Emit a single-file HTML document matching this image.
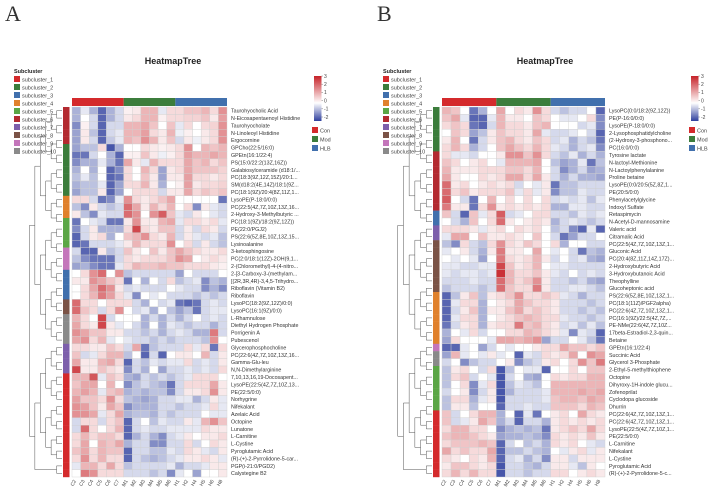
<!DOCTYPE html>
<html><head><meta charset="utf-8"><style>
body{margin:0;background:#fff;}
svg{display:block;font-family:"Liberation Sans",sans-serif;}
</style></head><body>
<svg id="fig" width="708" height="489" viewBox="0 0 708 489">
<text x="5" y="21" font-family="Liberation Serif" font-size="22" fill="#333">A</text>
<text x="377" y="21" font-family="Liberation Serif" font-size="22" fill="#333">B</text>
</svg>
<script>
const colLabels=["C2","C3","C4","C5","C6","C7","M1","M2","M3","M4","M5","M6","H1","H2","H4","H5","H6","H8"];
const groupNames=["Con","Mod","HLB"];
const subNames=["subcluster_1","subcluster_2","subcluster_3","subcluster_4","subcluster_5","subcluster_6","subcluster_7","subcluster_8","subcluster_9","subcluster_10"];
const barTicks=[3,2,1,0,-1,-2];
const rowsA=["Taurohyocholic Acid","N-Eicosapentaenoyl Histidine","Taurohyocholate","N-Linoleoyl Histidine","Ergocornine","GPCho(22:5/16:0)","GPEtn(16:1/22:4)","PS(15:0/22:2(13Z,16Z))","Galabiosylceramide (d18:1/...","PC(18:3(9Z,12Z,15Z)/20:1...","SM(d18:2(4E,14Z)/18:1(9Z...","PC(18:1(9Z)/20:4(8Z,11Z,1...","LysoPE(P-18:0/0:0)","PC(22:5(4Z,7Z,10Z,13Z,16...","2-Hydroxy-3-Methylbutyric ...","PC(18:1(9Z)/18:2(9Z,12Z))","PE(22:0/PGJ2)","PS(22:6(5Z,8E,10Z,13Z,15...","Lysinoalanine","3-ketosphingosine","PC(2:0/18:1(12Z)-2OH(9,1...","2-(Chloromethyl)-4-(4-nitro...","2-[3-Carboxy-3-(methylam...","[(2R,3R,4R)-3,4,5-Trihydro...","Riboflavin (Vitamin B2)","Riboflavin","LysoPC(18:2(9Z,12Z)/0:0)","LysoPC(16:1(9Z)/0:0)","L-Rhamnulose","Diethyl Hydrogen Phosphate","Porrigenin A","Pubescenol","Glycerophosphocholine","PC(22:6(4Z,7Z,10Z,13Z,16...","Gamma-Glu-leu","N,N-Dimethylarginine","7,10,13,16,19-Docosapent...","LysoPE(22:5(4Z,7Z,10Z,13...","PE(22:5/0:0)","Norhygrine","Nifekalant","Azelaic Acid","Octopine","Lunatone","L-Carnitine","L-Cystine","Pyroglutamic Acid","(R)-(+)-2-Pyrrolidone-5-car...","PGP(i-21:0/PGD2)","Calystegine B2"];
const rowsB=["LysoPC(0:0/18:2(9Z,12Z))","PE(P-16:0/0:0)","LysoPE(P-18:0/0:0)","2-Lysophosphatidylcholine","(2-Hydroxy-3-phosphono...","PC(16:0/0:0)","Tyrosine lactate","N-lactoyl-Methionine","N-Lactoylphenylalanine","Proline betaine","LysoPE(0:0/20:5(5Z,8Z,1...","PE(20:5/0:0)","Phenylacetylglycine","Indoxyl Sulfate","Retaspimycin","N-Acetyl-D-mannosamine","Valeric acid","Citramalic Acid","PC(22:5(4Z,7Z,10Z,13Z,1...","Gluconic Acid","PC(20:4(8Z,11Z,14Z,17Z)...","2-Hydroxybutyric Acid","3-Hydroxybutanoic Acid","Theophylline","Glucoheptonic acid","PS(22:6(5Z,8E,10Z,13Z,1...","PC(18:1(11Z)/PGF2alpha)","PC(22:6(4Z,7Z,10Z,13Z,1...","PC(16:1(9Z)/22:5(4Z,7Z,...","PE-NMe(22:6(4Z,7Z,10Z...","17beta-Estradiol-2,3-quin...","Betaine","GPEtn(16:1/22:4)","Succinic Acid","Glycerol 3-Phosphate","2-Ethyl-5-methylthiophene","Octopine","Dihyroxy-1H-indole glucu...","Zofenoprilat","Cyclodopa glucoside","Dhurrin","PC(22:6(4Z,7Z,10Z,13Z,1...","PC(22:6(4Z,7Z,10Z,13Z,1...","LysoPE(22:5(4Z,7Z,10Z,1...","PE(22:5/0:0)","L-Carnitine","Nifekalant","L-Cystine","Pyroglutamic Acid","(R)-(+)-2-Pyrrolidone-5-c..."];
const subA=[6,6,6,6,6,2,2,2,2,2,2,2,4,4,4,5,5,5,5,9,9,9,3,3,3,3,8,8,10,10,10,10,7,7,7,7,1,1,1,1,1,1,1,1,1,1,1,1,1,1];
const subB=[2,2,2,2,2,2,6,6,6,6,6,6,6,6,3,3,7,7,8,8,8,8,8,8,8,4,4,4,4,4,4,4,9,10,10,5,5,5,5,5,5,1,1,1,1,1,1,1,1,1];
const valsA=[
[-1,-0.3,-1,-2,-1,-0.5,0.2,0.3,1,1,-0.3,0.5,0.5,0.8,0.8,1,0.5,1.5],
[-1,0,-0.5,-2,-1,-0.5,0.3,0.5,1,1,0.2,0.5,0.5,0.6,0.6,0.8,0.3,1.3],
[-1.5,0.2,-0.5,-2,-0.5,-0.5,1,1,1.2,0.8,0,0.8,-0.3,0.5,0,0.5,0.6,1.5],
[-1.2,0.3,-0.8,-2,-0.5,-0.3,1,1,1.3,0.5,0.3,1,-0.2,0.2,0,0.3,0.5,1.5],
[-1.2,0.3,-0.5,-2,-0.7,-0.3,1,0.8,1.5,1,0.3,0.8,-0.5,0.3,-0.2,0.3,0.5,1.5],
[-1.2,-0.8,-0.8,0.5,-2.2,-1,0,0,0.5,0.3,0.2,0.3,0.5,1.5,0,1,0.8,1],
[-1.8,-1.8,-0.5,0,-1,-2,0.2,0.2,0.8,0.3,-0.2,0.2,0.5,1.3,1,1,1.2,1],
[-1.5,-1,-1,-0.3,-1,-1.8,1.2,0.3,-0.3,1,0.5,0.5,0.5,1.2,0.8,1,0.5,0.8],
[-1,0,-1,0,-2,-1.5,0.5,0,1,0.5,-1.2,0.3,0.5,1.2,0.8,0.8,0.8,0.6],
[-0.8,-0.3,-0.8,0,-2,-1.8,0.5,0,0.8,0.3,-1.2,0.3,0.3,1.3,0.5,0.5,0.3,0.5],
[-1,-0.8,-0.8,-0.3,-2,-1.2,0.5,0.5,1,0.3,-1,0,0.2,1.3,0.3,0.5,0.5,0.6],
[-1.2,-0.8,-0.8,0.3,-2,-1.2,0,0.5,0.5,0.5,-0.5,0.3,0.3,1.2,0.5,0.8,0.6,0.8],
[0.5,0.5,-0.5,-1.8,-1.5,-0.3,1.5,0.5,0.3,0.5,0.8,1.2,0,0,0,0,0,-1.8],
[-0.8,-1.5,0.3,-0.5,-0.8,-0.5,2,1.2,0.3,1,0.5,1,0,0.5,-1.5,0.3,-0.3,-0.5],
[0.3,-0.8,-1.5,-0.3,-0.5,-0.5,2,1.5,0,1.5,2.2,0.8,-0.3,-0.5,0.3,0,-0.3,-0.5],
[-1.8,0,-0.3,-0.5,-1.8,-1.8,0.3,1.5,0.3,0.3,1,1.2,-0.3,0.5,0.5,0.3,0.5,-0.3],
[-1.5,-0.5,0.3,-1,-1,-1,0.5,2.5,0.5,0.3,0.8,0.8,-0.5,0.3,-0.5,0.5,0.3,-0.5],
[-2,-0.5,0.3,0.5,-1,0,0.8,1,1.5,0.5,0.3,1,-0.5,0.3,-0.3,-0.5,-0.3,-0.8],
[-2,-1.8,-0.5,-0.5,-0.5,-0.3,0.3,1,0.5,0.5,0.5,1.5,0,0.5,-0.5,0.3,-0.5,-0.8],
[-0.5,-2,-2,0.3,-0.8,-0.5,0.8,0.3,0,0.8,0.3,0.8,1.2,0.8,0.5,0.3,0.3,0.5],
[-0.8,-1.5,-1.8,-1.8,-1.8,-0.5,0.5,0.3,0.5,0.5,0.5,0.8,1.5,1.2,0,0.3,0.5,0.3],
[-1.2,-1,-1.5,-1.8,-1.8,-0.3,0.5,1,0.8,0.8,1,0.8,0.8,0.5,0.5,0.5,0.3,0.2],
[0,0.5,1.5,2,0,1.5,-0.8,-0.5,-0.5,-0.5,-0.5,-0.5,-1.2,0,-0.5,-0.5,-0.5,0],
[0.3,0.3,1.5,1.2,0.8,0.5,-1.8,0,-1,0,-0.5,0.5,-0.8,-0.5,-0.3,-1.5,-0.8,-1],
[0,0.5,1.2,2,1.5,0.3,-0.5,-0.3,-0.5,-0.5,-0.5,0,-0.3,-0.5,-0.5,-1.5,-1,-1.5],
[0,0.5,1,1.8,1.3,0.5,-0.3,-1.5,0,-0.3,0,-0.5,-0.5,-0.5,-0.8,-0.5,-0.8,-0.5],
[2,0.5,0.5,0,0.5,0.5,0.5,-0.5,-1,0,-0.5,-0.3,-1.8,-2,-1.8,-0.5,-0.3,-0.5],
[2,0.8,0.5,-0.5,0.5,1.5,0,-0.5,-0.3,-1,0,-0.8,-1.2,-0.8,-1.8,-0.5,-0.3,-0.3],
[1,0.5,0,2.5,-0.5,0,0,0,-1,-0.5,-1,-0.5,-1,-0.5,0,-0.5,-0.3,-0.5],
[1.2,0.5,0.3,2.5,0.3,-0.3,0,-0.5,-1,0,-1,-0.3,-0.5,-0.8,-0.5,-0.5,-1,-0.5],
[1.5,1.2,0.8,0.8,0.3,0.3,-0.5,-0.5,-0.8,-0.5,-1,-0.5,-0.3,-0.5,-1,-1,1.8,-0.5],
[1.2,1.5,0.5,1,-0.3,0,-0.3,-0.5,-0.5,-0.8,-0.5,-0.8,-0.5,-0.5,-0.5,-0.8,1.5,0],
[0.5,0.5,0.3,0.3,0.8,0.5,-0.5,1.2,-1.8,-0.8,-0.5,-0.5,-0.5,0.5,-0.3,0.5,-1.8,0.5],
[0.8,-0.5,-0.3,0.5,1,1,-0.8,0,-2,-0.5,-2,0,0.3,0.3,0,1,-0.5,0.3],
[1.2,0.3,0.3,1,1.2,0.5,-2,-0.5,-0.8,-0.3,-0.5,-0.3,-0.3,0.5,-0.5,-0.3,-0.5,0.3],
[2.5,0.3,0.3,0.8,0.5,0.3,-1.5,-0.5,-1,0,-1.2,-0.5,-0.5,-0.3,-0.5,-0.3,-0.5,0.5],
[1,1,2.3,-0.3,0.8,0.5,-1,-1.2,-0.5,-0.8,-0.5,-0.8,-0.5,-0.3,0.5,0.5,0.5,0],
[0.8,1.2,1.2,0,1,0,-1.5,-0.8,-0.5,-0.8,-1,-1.8,-0.5,0.5,0.5,0.5,1.2,0.3],
[1,1.3,1,-0.3,0.8,1,-1,-0.8,-1,-0.8,-0.8,-1.5,-0.5,0.3,0.3,0.5,1.5,0.3],
[1.3,0.8,0.8,0.5,1.5,0.5,-0.8,-1,-1.2,-1,-0.5,-0.5,-0.3,-0.3,-1,-0.5,0.3,-0.3],
[1.5,1.3,0.8,0.3,1.2,0.8,-1.5,-1,-1,-1,-0.5,-0.5,-0.8,-0.5,-0.5,-0.3,0.5,-0.3],
[1.5,1.5,1.2,-0.3,0.5,1.2,-1,-0.8,-0.8,-1,-0.5,-0.8,-0.5,-0.5,-0.5,0,-0.3,-0.3],
[-0.5,0.5,0.5,-0.5,0.5,0.8,-2,-0.5,0,-0.8,-0.3,-0.5,-0.5,0.3,-0.3,1,1.5,0.8],
[-0.5,2,0.5,0,0.5,1,-2,-0.5,-0.3,-0.5,-0.5,-0.3,-0.3,-0.3,-0.3,0.5,0.3,0.3],
[0.5,1,0.5,0.8,0.8,0.5,-2,-1,-0.5,-1,-1.5,-0.5,-0.3,0.3,0,0.3,0.3,0.5],
[0.5,1.2,0,1,0.8,1.2,-1,-0.5,-0.5,-1.5,-1.5,-0.5,-0.5,0.5,-0.5,0,0.5,0.3],
[0.8,1.2,0.5,1,0.8,0.8,-2,-0.5,-0.5,-0.8,-0.8,-0.3,-0.5,0.5,0.3,-0.3,-0.5,0.3],
[0.5,1.5,0.5,1,0.5,0.5,-2,-0.5,-0.8,-1,-0.8,-0.5,-0.3,0.3,0.3,0.5,0.3,-0.3],
[-0.3,1,1,0.5,1.2,0.5,-0.8,-0.5,-0.5,-0.5,-0.5,-0.3,-1,-0.5,-0.5,-0.3,0.3,0.3],
[0,1.8,1.5,0.5,0.5,0.5,-0.5,-0.5,-0.5,-0.8,-0.5,-1.5,-0.3,0,-1.2,0,0,0.3]];
const valsB=[
[1,0.8,0,-1.8,-1,0,1.2,0,0.5,0.3,1.5,0.5,-0.5,-0.8,-0.5,-0.5,0,-2],
[0.8,1.2,-0.3,-2,-2,-0.3,1,0.3,0.3,0,0.8,0.5,0,-0.3,-0.3,0,0.5,-1.5],
[0.5,0.8,0.5,-1.8,-2,-0.5,1,0.5,0.5,0.3,0.8,1,0,0,0,-0.5,-0.3,-1.5],
[0,0.8,0.5,-1.2,-0.8,0.3,0.8,0.5,0.5,0.3,1.2,-0.3,-0.5,-0.5,-0.3,0,-0.5,-2],
[0.3,1,0,-1.8,-0.5,0.3,0.8,1,0.5,0.3,0.8,0.5,-0.5,-0.3,-1,-0.5,-0.8,-1.8],
[0.5,1,0.5,-1,-0.5,0,0.8,1.2,0.8,0.5,1,0.5,-0.3,-0.5,-1,-0.5,-0.3,-1.5],
[0.5,-0.3,-0.3,-0.5,0,0,0.3,1.5,1.5,0.8,1.5,0.5,-0.5,-0.8,-0.3,-1,-0.5,-1],
[0.8,0.5,0,0.3,0.5,0,-0.3,1,1,1,1.2,0,-0.8,-1.2,-1,-0.3,-1.8,-0.8],
[1,0.3,0.3,0.3,0.5,0.5,0.5,0.8,0.8,0.5,1,0,-0.5,-1.5,-1,-0.5,-1.2,-1],
[1.2,0.3,0,0,0.5,0.3,0.5,1.2,1.2,0.5,1.2,0.3,-0.5,-1,-0.5,-1,-1,-1.2],
[2,0.3,0.5,0,0.3,0.5,0.3,0.5,-0.5,0,-0.3,0.3,-1.8,-0.8,-0.8,-0.5,-0.5,-0.5],
[2,0.5,0.8,0.3,0.5,0.5,0.5,0.8,-0.3,0.5,-0.3,0.3,-1.5,-0.8,-0.8,-0.3,-0.5,-0.5],
[2.2,0,-0.5,-1.8,0,1,0,0.5,0,0.5,0,0.5,-0.5,-0.3,-0.5,-0.3,-0.8,-0.3],
[1.8,0.3,0.3,-1.8,0.5,1.5,0.3,0.5,0.3,0.5,0.3,0.5,-1,-1,-0.3,-0.3,-0.5,-0.5],
[0.8,-0.5,-2,0.8,-0.3,0.5,2.2,-0.5,-0.3,0,0.5,0.5,-0.5,-0.5,-0.8,-0.3,-0.5,-0.3],
[0,-0.5,-1,0.8,0,0.5,2,0.3,0,0.3,0.5,0.3,-1,-0.5,-0.3,-0.5,-0.8,-0.5],
[0.5,0.5,0.5,0.3,-0.3,0.3,0.5,0,0.5,0.3,0.5,0,-0.8,-0.5,-1.5,-2,-0.3,-2],
[-0.3,1.2,1.2,0,0.8,0.3,0.3,0.5,0.3,0,0.8,0,-0.5,-1.8,-1.2,-0.5,-0.5,0],
[-0.8,-1.5,0.5,-0.5,-0.8,0.5,1.5,0.5,0.3,0.8,0.5,0,0.5,-1,0,0,-0.5,-0.5],
[-0.3,0,0.3,-0.5,-1,0.3,1.8,0.3,0.3,0,1.2,0,-0.3,0,-0.5,-1.8,-0.8,-1],
[0,-0.3,0,-0.3,-1.2,0,1.8,0.5,0.3,0.5,1,0.3,-0.5,0,-0.5,-0.3,-1,-1.2],
[-0.3,-0.3,-0.5,-0.5,-0.3,-0.3,2.5,0.8,0.3,0.5,1,0,-0.3,-0.3,-0.5,-0.5,-0.5,-0.5],
[-0.3,-0.5,-0.3,-0.3,-0.5,-0.3,2.8,1,0.5,0.5,0.8,0.3,-0.3,-0.5,0,-0.5,-0.3,-0.5],
[-0.5,-0.5,-0.5,-0.3,-0.5,-0.5,2,1,0.5,0.8,1.5,0.3,-0.5,-0.5,-0.8,-0.5,-1,-1.2],
[-0.8,-0.5,-0.5,-0.5,-0.8,-0.5,2,0.8,0.5,0.5,1.8,0.3,-0.5,-0.5,-0.3,-0.3,-0.5,-0.8],
[-2,-0.8,0.3,0.8,-0.8,0.3,0.5,0.8,1.5,0.5,0.5,0.8,0.5,-0.3,-0.5,-1,-0.5,-0.5],
[-2,-0.3,0.5,0.5,-1,0,0.3,0.5,1.2,0.8,0.5,0.5,0.3,-0.5,-0.5,-0.5,-0.8,-0.5],
[-2,-0.5,0.3,0.8,-1,0.3,0.3,0.8,1.2,0.5,0.8,0.5,0.3,-0.5,-0.5,-0.8,-0.5,-0.8],
[-2,-0.3,0.5,0.5,-1,0,0.3,0.5,0.8,1,0.8,0.5,0.5,-0.3,-0.5,-0.5,-0.8,-0.5],
[-1.8,-0.5,0.3,0.5,-1,0.3,0.5,0.5,1.8,0.8,1,0.5,0.3,-0.5,-0.3,-0.8,-0.3,-0.8],
[-1,0,-0.3,0.5,-0.5,0,0,0.5,0.5,1,0.8,0.5,0.3,-0.3,-1.5,-0.3,-0.5,-2],
[-1.2,0.5,0,0,0,-0.3,1.2,1.2,1,1.2,1.5,-1.2,-0.5,-0.5,0,-0.3,-0.8,-1.8],
[-2,-2,-0.3,0,-1.2,-0.5,0,-0.3,0,0,0.3,0.5,0.5,1.2,0.8,0.8,0.5,0.8],
[-1.2,1,-0.3,0,-0.3,0.3,-0.3,0,-2,-0.3,-0.5,0.5,0.3,0.5,1.2,0,1.5,1.2],
[-0.5,0,-1.5,-0.8,-0.5,-0.5,0,0.3,-1.5,-0.8,-0.5,0.3,0.5,0,0.5,1.5,0.8,1.8],
[-0.8,0.3,0.5,0,-0.5,0.5,-2.2,-0.8,0,-0.3,-0.3,-2,0,0,0.5,0,0.8,0.8],
[-0.8,0.5,0.8,-0.5,0,-0.3,-2.2,-0.5,0,-1,-1.2,0,0.5,0.3,0.5,0.5,1,1],
[-0.8,0,0.5,-1.5,-0.3,0.5,-2.2,-0.8,-0.3,-0.5,-0.8,0,1,1,1,1,1,1],
[-0.5,0,0.3,-1.5,-0.5,0.3,-2.2,-1,-0.5,-0.5,-0.5,-0.3,1,1,1,1.2,1,1.2],
[-0.8,0.5,0.5,-1,-0.3,0.3,-2.2,-0.5,-0.5,-0.5,-0.5,-0.3,0.8,1,1,0.8,1.2,1],
[-0.8,0.3,0.3,-0.8,0,0,-2,-0.5,-0.5,-0.3,-0.5,-0.5,0.8,0.8,0.8,0.5,1,0.8],
[0.8,-0.5,0,0.5,1,1,-1,0,-2,-0.3,-1.8,0,0.3,0.5,0,1.2,0.5,0.3],
[0.8,-0.5,-0.3,0.3,1.2,0.8,-1,-0.5,-2,-0.5,-0.5,-1,0.3,0.5,0.3,0.5,0.3,0.5],
[0.5,1,1,0.5,0.5,0,-1.5,-1,-0.8,-1,-0.8,-1.8,0.3,0.5,0.8,0.5,1.2,0.5],
[0.8,1,1,0.8,0.5,0.3,-1.2,-1,-1,-0.8,-1,-1.5,0.5,0.3,0.5,0.3,0.8,0.3],
[0.5,0.8,0.8,0.8,1,0.8,-2,-0.5,0,-0.8,-0.5,-1,0.5,0.3,0.5,0,-0.3,-0.5],
[1.2,0.5,0.8,0.5,0.5,1.2,-2,-0.8,-0.8,-0.5,-0.8,-1,0,-0.3,0.3,0.5,-0.3,0.3],
[0.5,0.3,0,0.5,0.3,1,-2,-0.5,-0.3,-1,-0.5,-1.5,0.3,0.3,-0.5,0.3,0.3,0.3],
[0.3,0.8,0.8,0.5,0.3,0.5,-2.2,-0.5,-0.5,-0.8,-1,-0.5,0.3,0.3,-0.3,-0.8,0.3,0],
[0.5,1,0.5,1,0.5,0.5,-2.2,-0.5,-0.5,-0.8,-0.5,-0.5,0.5,0.5,0,0.3,0.5,0.3]];

const subColors=["#d42a2c","#3c7d3c","#4170ad","#e0812d","#5ba646","#b32a30","#7d5fab","#7b5346","#c476bb","#8a8a8a"];
const groupColors=["#d42a2c","#3c7d3c","#4170ad"];
const NS="http://www.w3.org/2000/svg";
const svg=document.getElementById('fig');
function mk(tag,attrs,parent){const e=document.createElementNS(NS,tag);for(const k in attrs)e.setAttribute(k,attrs[k]);(parent||svg).appendChild(e);return e;}
function lerp(a,b,t){return Math.round(a+(b-a)*t);}
function color(v){
  const blue=[46,63,158],red=[198,34,40],w=[255,255,255];
  let c,t;
  if(v<0){t=Math.min(1,-v/2.5);c=blue;}else{t=Math.min(1,v/3);c=red;}
  return `rgb(${lerp(w[0],c[0],t)},${lerp(w[1],c[1],t)},${lerp(w[2],c[2],t)})`;
}
function panel(cfg){
  const g=mk('g',{});
  
  
  const nR=cfg.rows.length,nC=colLabels.length;
  const cw=(cfg.x1-cfg.x0)/nC, rh=(cfg.y1-cfg.y0)/nR;
  const xs=c=>cfg.x0+c*cw, ys=r=>cfg.y0+r*rh;
  // title
  const t=mk('text',{x:cfg.titleX,y:64,'font-size':9,'font-weight':'bold','text-anchor':'middle',fill:'#222'},g);
  t.textContent='HeatmapTree';
  
  
  // subcluster legend
  const lt=mk('text',{x:cfg.legX,y:73,'font-size':5.5,'font-weight':'bold',fill:'#222'},g);
  lt.textContent='Subcluster';
  
  
  subNames.forEach((n,i)=>{
    const r=mk('rect',{x:cfg.legX,y:76+i*8,width:6,height:6,fill:subColors[i]},g);
    
    
    const tx=mk('text',{x:cfg.legX+8,y:81.5+i*8,'font-size':5.5,fill:'#444'},g);
    tx.textContent=n;
    
    
  });
  // group bar
  for(let k=0;k<3;k++){
    const r=mk('rect',{x:xs(k*6),y:98,width:cw*6,height:8,fill:groupColors[k]},g);
    
    
  }
  // cells
  cfg.vals.forEach((row,r)=>row.forEach((v,c)=>{
    const e=mk('rect',{x:xs(c),y:ys(r),width:cw,height:rh,fill:color(v),stroke:'#cfcfcf','stroke-width':0.4},g);
    
    
  }));
  // row side colors
  cfg.sub.forEach((s,r)=>{
    const e=mk('rect',{x:cfg.x0-9,y:ys(r),width:6.5,height:rh+0.2,fill:subColors[s-1]},g);
    
    
  });
  // row labels
  cfg.rows.forEach((n,r)=>{
    const e=mk('text',{x:cfg.x1+4,y:ys(r)+rh/2+1.9,'font-size':5.3,fill:'#333'},g);
    e.textContent=n;
    
    
  });
  // column labels
  colLabels.forEach((n,c)=>{
    const cx=xs(c)+cw/2, cy=cfg.y1+4;
    const e=mk('text',{x:cx,y:cy,'font-size':5,fill:'#444','text-anchor':'end',transform:`rotate(-60 ${cx} ${cy})`},g);
    e.textContent=n;
    
    
  });
  // dendrogram (structural pairing of leaves)
  let nodes=cfg.rows.map((_,r)=>({y:ys(r)+rh/2,d:0}));
  const right=cfg.x0-10, left=cfg.treeL, levels=7;
  const step=(right-left)/levels;
  let lvl=0;
  while(nodes.length>1){
    lvl++;
    const nn=[];
    for(let i=0;i<nodes.length;i+=2){
      if(i+1<nodes.length){
        const a=nodes[i],b=nodes[i+1],x=right-lvl*step;
        const p=mk('path',{d:`M${right-a.d*step} ${a.y}H${x}V${b.y}H${right-b.d*step}`,fill:'none',stroke:'#555','stroke-width':0.5},g);
        
        
        nn.push({y:(a.y+b.y)/2,d:lvl});
      } else nn.push(nodes[i]);
    }
    nodes=nn;
  }
  // colorbar
  const defs=mk('defs',{},g);
  const lg=mk('linearGradient',{id:cfg.name+'-grad',x1:0,y1:0,x2:0,y2:1},defs);
  [[0,3],[0.4,1],[0.6,0],[1,-2.5]].forEach(([o,v])=>mk('stop',{offset:o,'stop-color':color(v)},lg));
  const cb=mk('rect',{x:cfg.cbX,y:76,width:7.5,height:45,fill:`url(#${cfg.name}-grad)`},g);
  
  
  barTicks.forEach(v=>{
    const y=76+(3-v)*8.2;
    mk('line',{x1:cfg.cbX+7.5,x2:cfg.cbX+9,y1:y,y2:y,stroke:'#555','stroke-width':0.4},g);
    const e=mk('text',{x:cfg.cbX+10,y:y+1.8,'font-size':5,fill:'#444'},g);
    e.textContent=v;
    
    
  });
  groupNames.forEach((n,i)=>{
    const r=mk('rect',{x:cfg.cbX-2,y:127+i*9,width:6,height:6,fill:groupColors[i]},g);
    
    
    const e=mk('text',{x:cfg.cbX+6,y:132.5+i*9,'font-size':5.5,fill:'#444'},g);
    e.textContent=n;
    
    
  });
}
panel({name:'heatmap-a',rows:rowsA,vals:valsA,sub:subA,x0:72,x1:227,y0:107,y1:477,titleX:173,legX:14,treeL:24,cbX:314});
panel({name:'heatmap-b',rows:rowsB,vals:valsB,sub:subB,x0:442,x1:605,y0:107,y1:477,titleX:545,legX:383,treeL:392,cbX:691});
</script>
</body></html>
